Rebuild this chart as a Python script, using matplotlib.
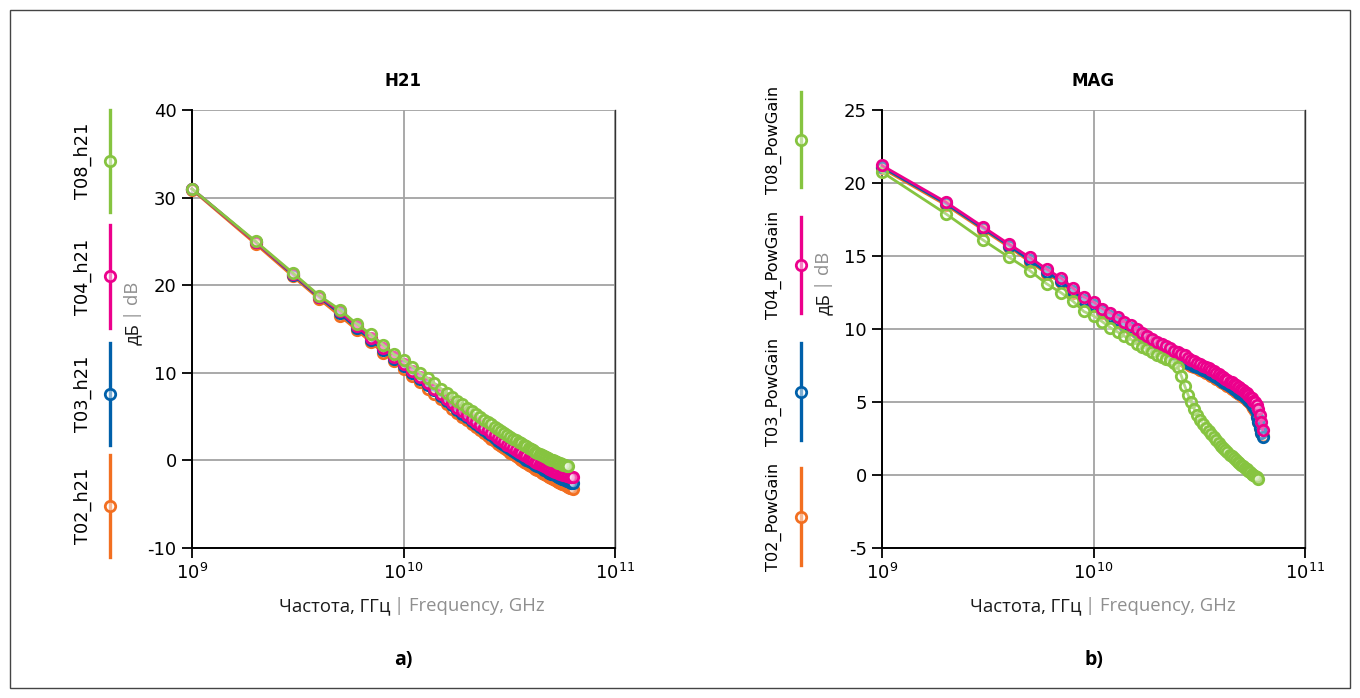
import numpy as np
import matplotlib
matplotlib.use("Agg")
import matplotlib.pyplot as plt
from matplotlib.lines import Line2D
from matplotlib.patches import Rectangle

# frequencies, GHz
freq_60 = list(range(1, 61))
freq_63 = list(range(1, 64))

# H21, dB
h21_t08 = [31.0, 25.0, 21.4, 18.8, 17.2, 15.6, 14.4, 13.2, 12.1, 11.5,
           10.7, 10.0, 9.4, 8.8, 8.2, 7.7, 7.2, 6.8, 6.4, 6.0,
           5.6, 5.3, 4.95, 4.65, 4.35, 4.1, 3.85, 3.6, 3.35, 3.1,
           2.9, 2.7, 2.5, 2.3, 2.1, 1.95, 1.8, 1.6, 1.45, 1.3,
           1.15, 1.0, 0.9, 0.75, 0.6, 0.5, 0.4, 0.3, 0.2, 0.1,
           0.0, -0.1, -0.2, -0.25, -0.35, -0.4, -0.5, -0.55, -0.6, -0.65]
h21_t04 = [31.0, 24.9, 21.3, 18.7, 17.0, 15.3, 14.0, 12.8, 11.8, 11.0,
           10.2, 9.5, 8.8, 8.2, 7.6, 7.0, 6.5, 6.0, 5.6, 5.15,
           4.75, 4.4, 4.05, 3.75, 3.45, 3.15, 2.85, 2.55, 2.3, 2.05,
           1.8, 1.6, 1.4, 1.2, 1.0, 0.85, 0.65, 0.5, 0.3, 0.15,
           0.0, -0.15, -0.3, -0.4, -0.55, -0.65, -0.8, -0.9, -1.0, -1.1,
           -1.2, -1.3, -1.35, -1.45, -1.5, -1.6, -1.65, -1.7, -1.75, -1.8,
           -1.85, -1.9, -1.95]
h21_t03 = [31.0, 24.9, 21.2, 18.6, 16.8, 15.1, 13.8, 12.6, 11.6, 10.8,
           10.0, 9.3, 8.6, 8.0, 7.4, 6.8, 6.3, 5.8, 5.35, 4.9,
           4.5, 4.15, 3.8, 3.45, 3.15, 2.85, 2.55, 2.25, 2.0, 1.75,
           1.5, 1.3, 1.05, 0.85, 0.65, 0.45, 0.3, 0.1, -0.05, -0.2,
           -0.35, -0.5, -0.65, -0.8, -0.9, -1.05, -1.15, -1.3, -1.4, -1.5,
           -1.6, -1.7, -1.8, -1.9, -2.0, -2.1, -2.15, -2.25, -2.3, -2.4,
           -2.45, -2.55, -2.6]
h21_t02 = [30.9, 24.7, 21.0, 18.4, 16.5, 14.9, 13.5, 12.3, 11.3, 10.4,
           9.6, 8.9, 8.2, 7.6, 7.0, 6.4, 5.9, 5.4, 5.0, 4.6,
           4.2, 3.8, 3.45, 3.1, 2.8, 2.5, 2.2, 1.9, 1.65, 1.4,
           1.15, 0.9, 0.7, 0.45, 0.25, 0.05, -0.15, -0.3, -0.5, -0.65,
           -0.8, -0.95, -1.1, -1.25, -1.4, -1.5, -1.65, -1.75, -1.9, -2.0,
           -2.1, -2.2, -2.35, -2.45, -2.55, -2.65, -2.75, -2.85, -2.95, -3.05,
           -3.1, -3.2, -3.25]

# MAG, dB
mag_t08 = [20.75, 17.9, 16.1, 14.9, 14.0, 13.1, 12.5, 11.9, 11.2, 10.9,
           10.5, 10.1, 9.8, 9.5, 9.3, 9.0, 8.8, 8.6, 8.4, 8.25,
           8.1, 7.95, 7.85, 7.7, 7.4, 6.8, 6.1, 5.5, 5.0, 4.5,
           4.1, 3.8, 3.5, 3.2, 3.0, 2.8, 2.6, 2.4, 2.2, 2.0,
           1.85, 1.7, 1.55, 1.4, 1.3, 1.15, 1.0, 0.9, 0.8, 0.7,
           0.6, 0.5, 0.4, 0.3, 0.2, 0.1, 0.0, -0.1, -0.15, -0.25]
mag_t04 = [21.2, 18.7, 17.0, 15.8, 14.9, 14.1, 13.5, 12.8, 12.2, 11.85,
           11.4, 11.1, 10.8, 10.5, 10.3, 10.0, 9.7, 9.5, 9.3, 9.1,
           9.0, 8.85, 8.7, 8.5, 8.4, 8.3, 8.2, 8.0, 7.9, 7.8,
           7.7, 7.6, 7.5, 7.4, 7.3, 7.2, 7.1, 7.0, 6.9, 6.8,
           6.7, 6.6, 6.5, 6.4, 6.35, 6.25, 6.15, 6.05, 6.0, 5.9,
           5.8, 5.7, 5.6, 5.5, 5.35, 5.25, 5.1, 5.0, 4.8, 4.5,
           4.1, 3.6, 3.1]
mag_t03 = [21.1, 18.6, 16.9, 15.7, 14.7, 13.9, 13.3, 12.6, 12.0, 11.65,
           11.2, 10.9, 10.6, 10.3, 10.05, 9.8, 9.5, 9.3, 9.1, 8.9,
           8.75, 8.6, 8.45, 8.25, 8.1, 8.0, 7.85, 7.7, 7.6, 7.5,
           7.4, 7.3, 7.2, 7.1, 7.0, 6.9, 6.8, 6.7, 6.6, 6.5,
           6.4, 6.3, 6.2, 6.1, 6.0, 5.9, 5.8, 5.7, 5.65, 5.55,
           5.45, 5.35, 5.25, 5.15, 5.0, 4.85, 4.7, 4.5, 4.0, 3.6,
           3.2, 2.9, 2.6]
mag_t02 = [21.0, 18.5, 16.8, 15.6, 14.6, 13.8, 13.2, 12.5, 11.9, 11.55,
           11.1, 10.8, 10.5, 10.2, 9.95, 9.7, 9.4, 9.2, 9.0, 8.8,
           8.65, 8.5, 8.35, 8.15, 8.0, 7.9, 7.75, 7.6, 7.5, 7.4,
           7.3, 7.2, 7.1, 7.0, 6.9, 6.8, 6.7, 6.6, 6.5, 6.4,
           6.3, 6.2, 6.1, 6.0, 5.9, 5.8, 5.7, 5.6, 5.55, 5.45,
           5.35, 5.25, 5.15, 5.05, 4.9, 4.75, 4.6, 4.4, 4.0, 3.6,
           3.2, 2.9, 2.7]

GREEN = "#86c440"
PINK = "#ec008c"
BLUE = "#0060aa"
ORANGE = "#f26f21"
GRAY_TXT = "#8f8f8f"
LABEL_FONT = ["Open Sans", "DejaVu Sans"]

W, H = 1360, 698
fig = plt.figure(figsize=(W / 100, H / 100), dpi=100)

def fx(x):
    return x / W

def fy(y):
    return 1 - y / H

def make_axes(x0, x1, ytop, ybot):
    return fig.add_axes([fx(x0), fy(ybot), fx(x1 - x0), (ybot - ytop) / H])

def style_axes(ax, ylim, yticks, title):
    ax.set_xscale("log")
    ax.set_xlim(1e9, 1e11)
    ax.set_ylim(*ylim)
    ax.set_yticks(yticks)
    ax.set_yticklabels([str(v) for v in yticks])
    ax.set_xticks([1e9, 1e10, 1e11])
    ax.xaxis.set_minor_locator(matplotlib.ticker.NullLocator())
    ax.grid(True, color="#a3a3a3", linewidth=1.3)
    ax.set_axisbelow(True)
    ax.spines["top"].set_visible(False)
    ax.spines["right"].set_color("#333333")
    ax.spines["right"].set_linewidth(1.0)
    ax.spines["left"].set_linewidth(1.4)
    ax.spines["bottom"].set_linewidth(1.4)
    ax.tick_params(axis="both", length=7, width=1.3, labelsize=13, pad=4)
    ax.set_title(title, fontsize=12, fontweight="bold", pad=17)

def draw_series(ax, f_ghz, vals, color, z):
    f = np.array(f_ghz) * 1e9
    ax.plot(f, vals, color=color, lw=2.0, marker="o", ms=7.5, mew=2.0,
            mfc=(1, 1, 1, 0.35), mec=color, clip_on=False, zorder=z)

def legend_column(x_line, x_text, entries, size):
    for label, color, ytop, ybot in entries:
        fig.add_artist(Line2D([fx(x_line), fx(x_line)], [fy(ytop), fy(ybot)],
                              transform=fig.transFigure, color=color, lw=2.4))
        ym = (ytop + ybot) / 2
        fig.add_artist(Line2D([fx(x_line)], [fy(ym)], transform=fig.transFigure,
                              color=color, marker="o", ms=7.5, mew=2.0,
                              mfc=(1, 1, 1, 0.5), mec=color))
        fig.text(fx(x_text), fy(ym), label, rotation=90, ha="center", va="center",
                 fontsize=size)

def two_tone_x(xsplit, y):
    fig.text(fx(xsplit - 2), fy(y), "Частота, ГГц", ha="right", va="center",
             fontsize=13.3, family=LABEL_FONT, color="#1a1a1a")
    fig.text(fx(xsplit + 1), fy(y), "| Frequency, GHz", ha="left", va="center",
             fontsize=13.3, family=LABEL_FONT, color=GRAY_TXT)

def two_tone_y(x, ysplit):
    fig.text(fx(x), fy(ysplit + 2), "дБ", rotation=90, ha="center", va="top",
             fontsize=13.3, family=LABEL_FONT, color="#1a1a1a")
    fig.text(fx(x), fy(ysplit - 1), "| dB", rotation=90, ha="center", va="bottom",
             fontsize=13.3, family=LABEL_FONT, color=GRAY_TXT)

# left chart: H21
ax1 = make_axes(192, 615, 110, 548)
style_axes(ax1, (-10, 40), [-10, 0, 10, 20, 30, 40], "H21")
draw_series(ax1, freq_63, h21_t02, ORANGE, 3)
draw_series(ax1, freq_63, h21_t03, BLUE, 4)
draw_series(ax1, freq_63, h21_t04, PINK, 5)
draw_series(ax1, freq_60, h21_t08, GREEN, 6)

# right chart: MAG
ax2 = make_axes(882, 1305, 110, 548)
style_axes(ax2, (-5, 25), [-5, 0, 5, 10, 15, 20, 25], "MAG")
draw_series(ax2, freq_63, mag_t02, ORANGE, 3)
draw_series(ax2, freq_63, mag_t03, BLUE, 4)
draw_series(ax2, freq_60, mag_t08, GREEN, 5)
draw_series(ax2, freq_63, mag_t04, PINK, 6)

legend_column(110, 83, [("T08_h21", GREEN, 110, 212),
                        ("T04_h21", PINK, 225, 328),
                        ("T03_h21", BLUE, 343, 445),
                        ("T02_h21", ORANGE, 455, 557)], 12.8)
legend_column(801, 774, [("T08_PowGain", GREEN, 92, 187),
                         ("T04_PowGain", PINK, 217, 313),
                         ("T03_PowGain", BLUE, 343, 440),
                         ("T02_PowGain", ORANGE, 468, 565)], 11.6)

two_tone_x(393, 606)
two_tone_x(1084, 606)
two_tone_y(133, 321)
two_tone_y(824, 291)

fig.text(fx(403), fy(660), "a)", ha="center", va="center", fontsize=14,
         fontweight="bold", family=LABEL_FONT)
fig.text(fx(1094), fy(660), "b)", ha="center", va="center", fontsize=14,
         fontweight="bold", family=LABEL_FONT)

fig.add_artist(Rectangle((fx(10), fy(688)), fx(1340), (678) / H, fill=False,
                         transform=fig.transFigure, edgecolor="#444444", lw=1.0))

fig.savefig("out.png", dpi=100)
